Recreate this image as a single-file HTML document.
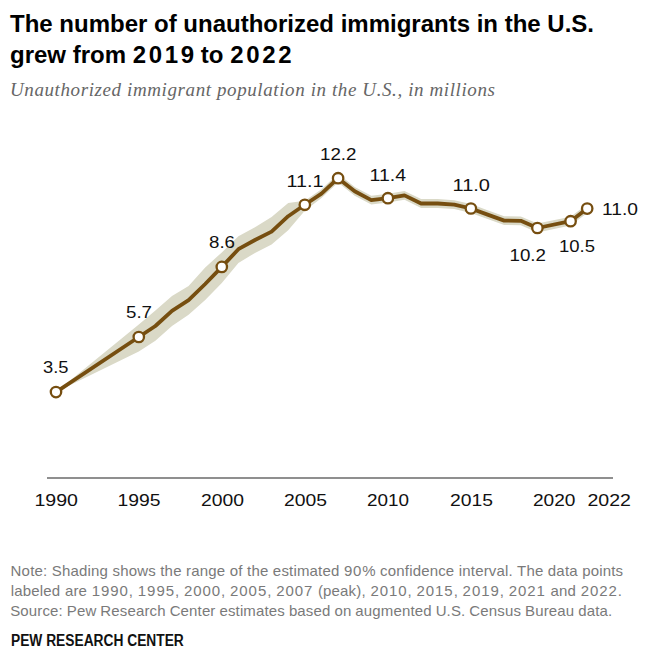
<!DOCTYPE html>
<html><head><meta charset="utf-8">
<style>
html,body{margin:0;padding:0;background:#fff;}
body{width:653px;height:656px;position:relative;overflow:hidden;font-family:"Liberation Sans",sans-serif;}
.t{position:absolute;white-space:nowrap;}
#title{left:10px;top:9.4px;font-size:24px;font-weight:bold;line-height:30.6px;color:#000;}
#title .d{letter-spacing:2.7px;}
#sub{left:10px;top:79px;font-family:"Liberation Serif",serif;font-style:italic;font-size:19px;line-height:22px;color:#666;letter-spacing:0.6px;}
.note{font-size:15px;line-height:20px;color:#7a7a7a;}
#pew{left:11px;top:632px;font-size:16px;font-weight:bold;line-height:18px;color:#111;transform:scaleX(0.86);transform-origin:0 0;}
svg{position:absolute;left:0;top:0;}
svg text{font-family:"Liberation Sans",sans-serif;font-size:17px;fill:#111;}
</style></head><body>
<div class="t" id="title">The number of unauthorized immigrants in the U.S.<br>grew from <span class="d">201</span>9 to <span class="d">202</span>2</div>
<div class="t" id="sub">Unauthorized immigrant population in the U.S., in millions</div>
<svg width="653" height="656" viewBox="0 0 653 656">
<rect x="47" y="477" width="566" height="2" fill="#8f8f8f"/>
<polygon points="56.0,392.1 138.8,324.5 155.4,310.5 172.0,295.9 188.6,286.0 205.2,267.5 221.8,252.4 238.4,236.2 255.0,227.2 271.6,217.1 288.2,203.0 304.8,200.8 321.5,189.3 338.1,173.8 354.7,186.9 371.3,195.7 387.9,193.8 404.5,191.0 421.1,199.1 437.7,199.1 454.3,200.2 470.9,204.1 487.6,210.2 504.2,216.2 520.8,216.4 537.4,223.6 570.6,216.8 587.2,204.2 587.2,213.0 570.6,225.6 537.4,232.4 520.8,225.2 504.2,225.0 487.6,219.0 470.9,212.9 454.3,209.0 437.7,207.9 421.1,207.9 404.5,199.8 387.9,202.6 371.3,204.5 354.7,195.7 338.1,182.6 321.5,198.1 304.8,210.8 288.2,230.3 271.6,244.4 255.0,252.9 238.4,263.0 221.8,282.9 205.2,300.0 188.6,314.8 172.0,326.0 155.4,340.8 138.8,351.4 56.0,392.1" fill="#dad9c7"/>
<polyline points="56.0,392.1 138.8,337.0 155.4,326.0 172.0,310.8 188.6,300.2 205.2,284.0 221.8,266.9 238.4,249.2 255.0,240.0 271.6,231.6 288.2,216.2 304.8,204.8 321.5,193.7 338.1,178.2 354.7,191.3 371.3,200.1 387.9,198.2 404.5,195.4 421.1,203.5 437.7,203.5 454.3,204.6 470.9,208.5 487.6,214.6 504.2,220.6 520.8,220.8 537.4,228.0 570.6,221.2 587.2,208.6" fill="none" stroke="#764e10" stroke-width="3.8" stroke-linejoin="round" stroke-linecap="round"/>
<g fill="#fff" stroke="#764e10" stroke-width="2.3"><circle cx="56.0" cy="392.1" r="5.2"/><circle cx="138.8" cy="337.0" r="5.2"/><circle cx="221.8" cy="266.9" r="5.2"/><circle cx="304.8" cy="204.8" r="5.2"/><circle cx="338.1" cy="178.2" r="5.2"/><circle cx="387.9" cy="198.2" r="5.2"/><circle cx="470.9" cy="208.5" r="5.2"/><circle cx="537.4" cy="228.0" r="5.2"/><circle cx="570.6" cy="221.2" r="5.2"/><circle cx="587.2" cy="208.6" r="5.2"/></g>
<text x="34.50" y="506.10" textLength="43.50" lengthAdjust="spacingAndGlyphs">1990</text>
<text x="117.50" y="506.10" textLength="43.00" lengthAdjust="spacingAndGlyphs">1995</text>
<text x="201.00" y="506.10" textLength="43.00" lengthAdjust="spacingAndGlyphs">2000</text>
<text x="284.00" y="506.10" textLength="43.00" lengthAdjust="spacingAndGlyphs">2005</text>
<text x="367.00" y="506.10" textLength="42.00" lengthAdjust="spacingAndGlyphs">2010</text>
<text x="450.00" y="506.10" textLength="43.00" lengthAdjust="spacingAndGlyphs">2015</text>
<text x="533.00" y="506.10" textLength="42.50" lengthAdjust="spacingAndGlyphs">2020</text>
<text x="587.50" y="506.10" textLength="43.50" lengthAdjust="spacingAndGlyphs">2022</text>
<text x="43.00" y="373.40" textLength="25.50" lengthAdjust="spacingAndGlyphs">3.5</text>
<text x="126.00" y="318.40" textLength="26.00" lengthAdjust="spacingAndGlyphs">5.7</text>
<text x="209.00" y="248.40" textLength="26.00" lengthAdjust="spacingAndGlyphs">8.6</text>
<text x="286.50" y="187.10" textLength="37.00" lengthAdjust="spacingAndGlyphs">11.1</text>
<text x="320.00" y="160.20" textLength="36.50" lengthAdjust="spacingAndGlyphs">12.2</text>
<text x="369.50" y="180.60" textLength="36.50" lengthAdjust="spacingAndGlyphs">11.4</text>
<text x="452.50" y="191.40" textLength="37.50" lengthAdjust="spacingAndGlyphs">11.0</text>
<text x="509.50" y="261.40" textLength="36.50" lengthAdjust="spacingAndGlyphs">10.2</text>
<text x="559.00" y="251.70" textLength="36.00" lengthAdjust="spacingAndGlyphs">10.5</text>
<text x="602.00" y="214.70" textLength="36.00" lengthAdjust="spacingAndGlyphs">11.0</text>
</svg>
<div class="t note" style="left:10.62px;top:561px;letter-spacing:0.171px;word-spacing:0.109px">Note: Shading shows the range of the estimated <span style="letter-spacing:0.782px">90</span>% confidence interval. The data points</div>
<div class="t note" style="left:10.81px;top:581px;letter-spacing:0.155px;word-spacing:0.337px">labeled are <span style="letter-spacing:0.938px">1990</span>, <span style="letter-spacing:0.938px">1995</span>, <span style="letter-spacing:0.938px">2000</span>, <span style="letter-spacing:0.938px">2005</span>, <span style="letter-spacing:0.938px">2007</span> (peak), <span style="letter-spacing:0.938px">2010</span>, <span style="letter-spacing:0.938px">2015</span>, <span style="letter-spacing:0.938px">2019</span>, <span style="letter-spacing:0.938px">2021</span> and <span style="letter-spacing:0.938px">2022</span>.</div>
<div class="t note" style="left:10.13px;top:601px;letter-spacing:0.143px;word-spacing:-0.358px">Source: Pew Research Center estimates based on augmented U.S. Census Bureau data.</div>

<div class="t" id="pew">PEW RESEARCH CENTER</div>
</body></html>
